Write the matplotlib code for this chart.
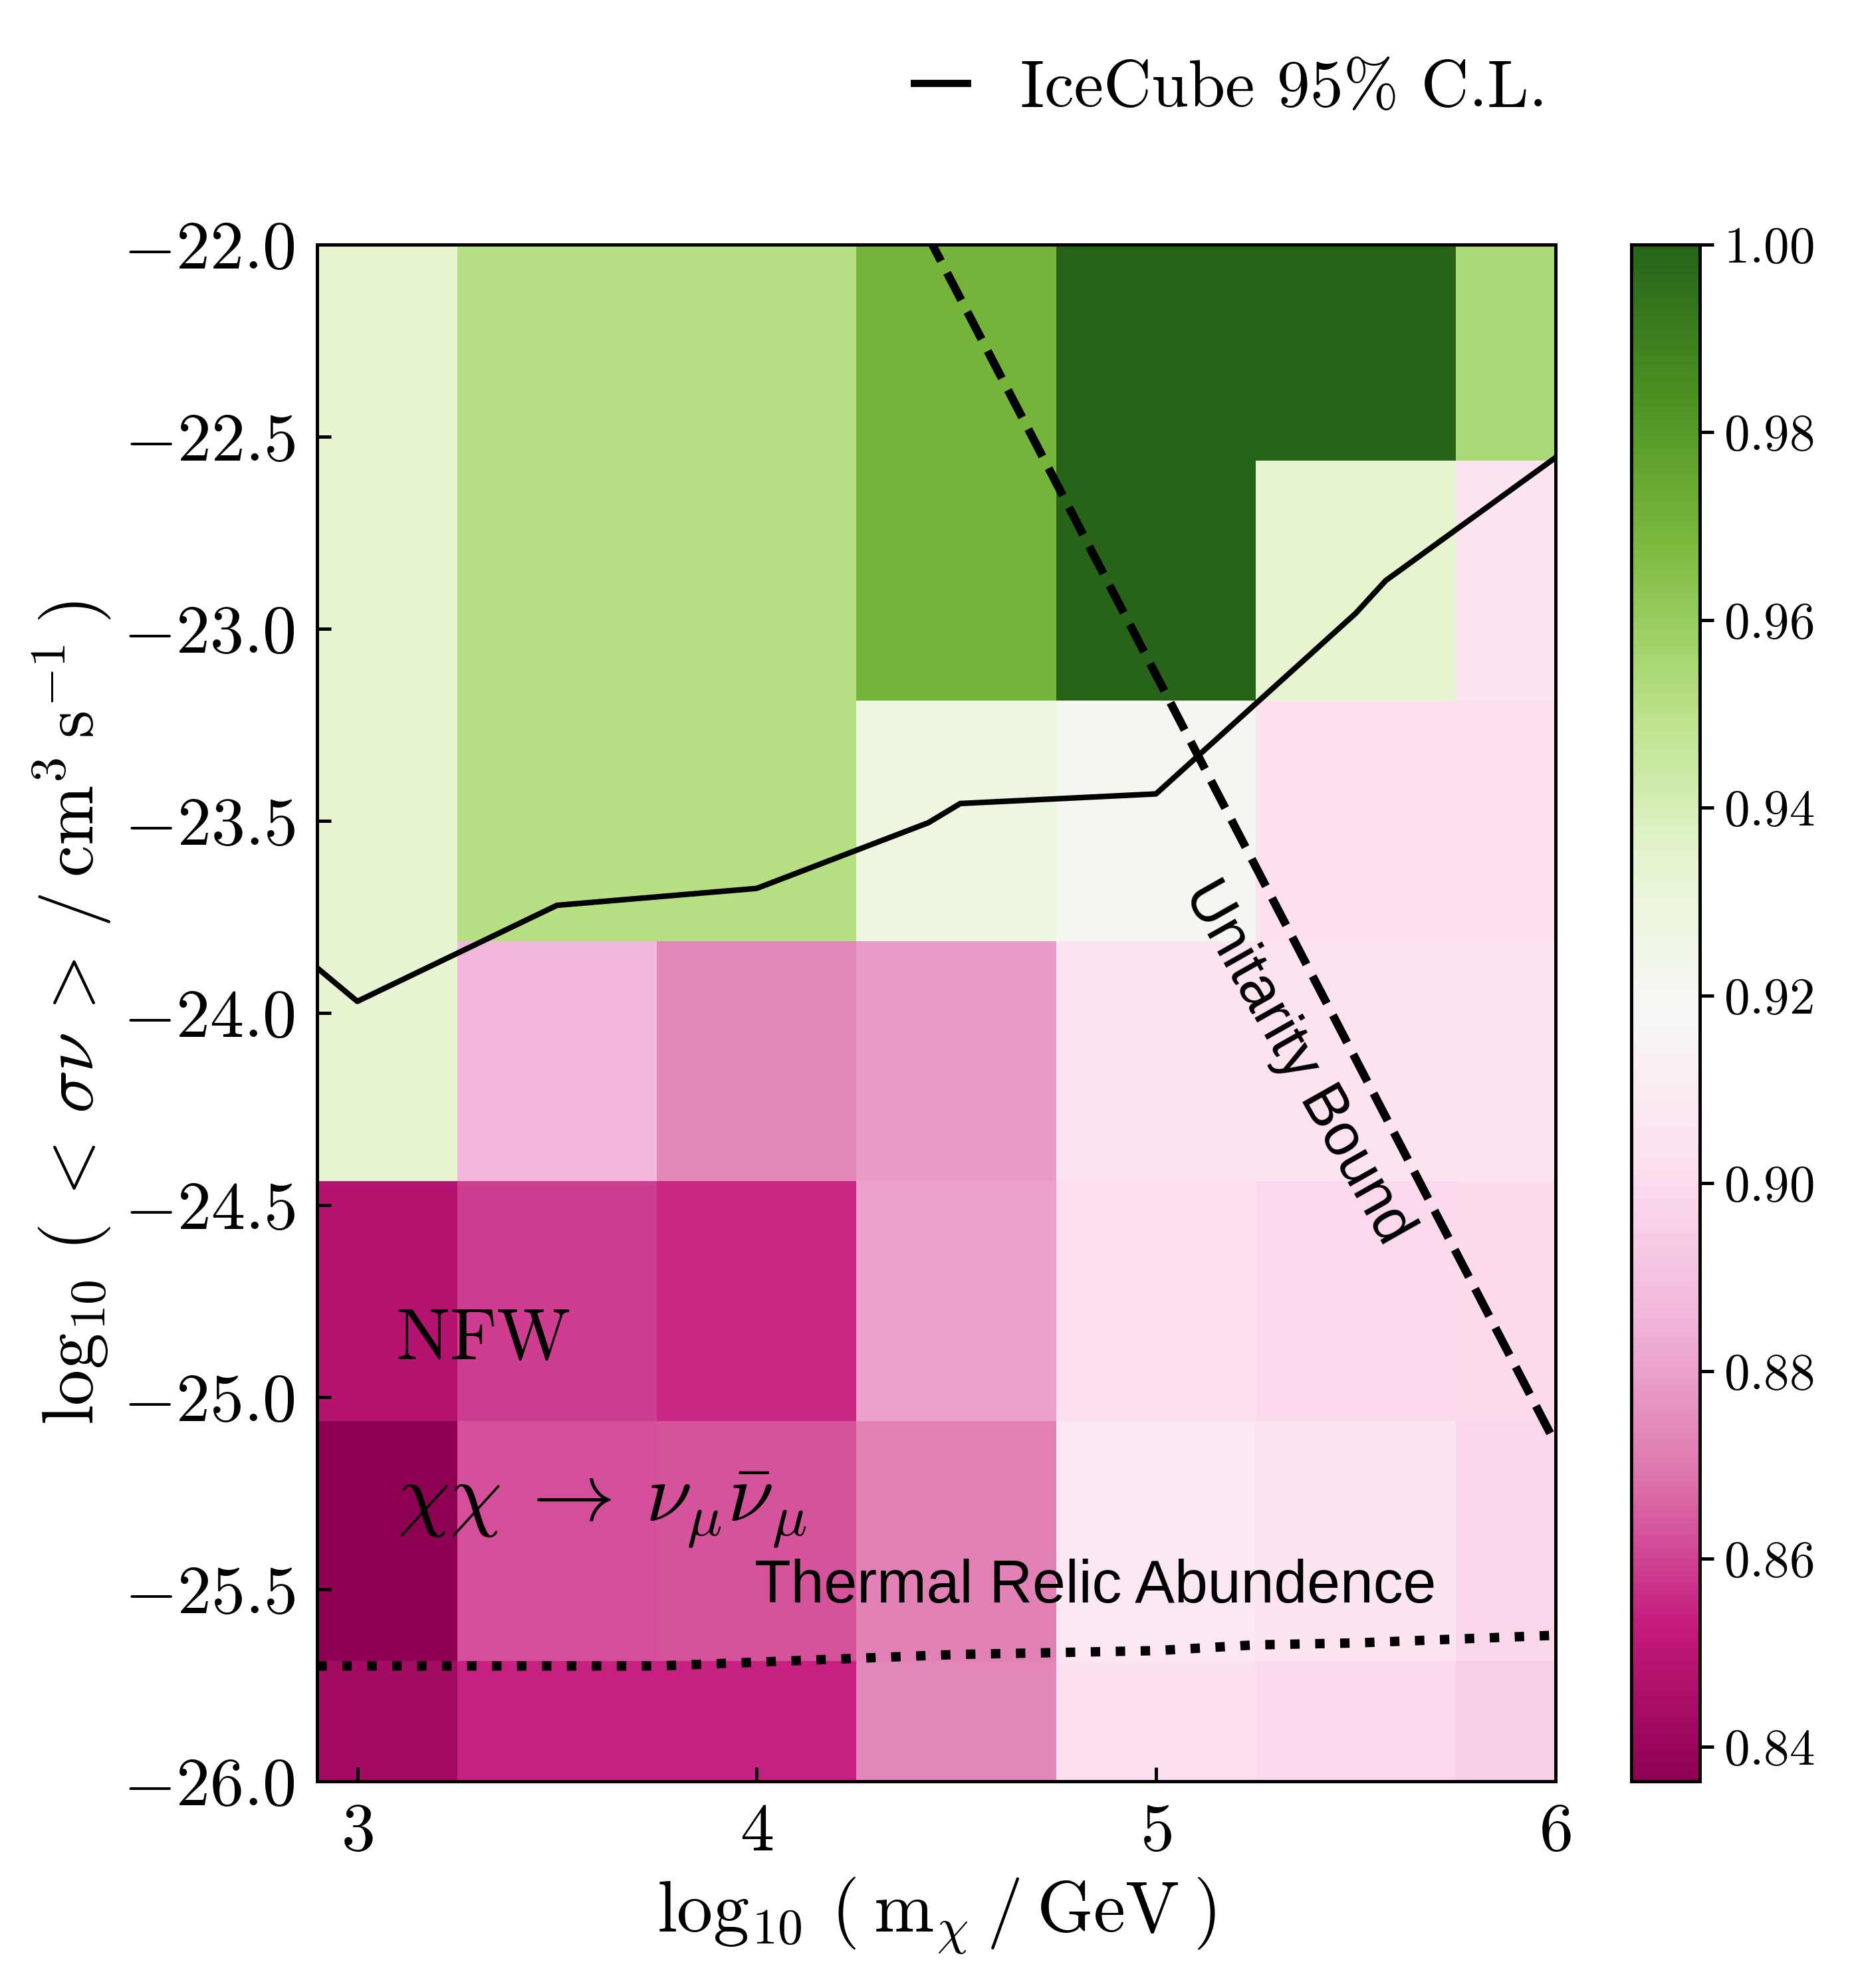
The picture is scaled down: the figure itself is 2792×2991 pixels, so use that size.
import numpy as np
import matplotlib
matplotlib.use("Agg")
import matplotlib.pyplot as plt
from matplotlib.ticker import FuncFormatter

# === dados ===
log_m = [3.0, 3.5, 4.0, 4.5, 5.0, 5.5, 6.0]
log_sv = [-26.0, -25.375, -24.75, -24.125, -23.5, -22.875, -22.25]

# linhas = log_sv (de baixo para cima), colunas = log_m
ratio = [
    [0.843, 0.854, 0.854, 0.874, 0.902, 0.899, 0.895],
    [0.8365, 0.862, 0.863, 0.872, 0.907, 0.906, 0.898],
    [0.848, 0.859, 0.855, 0.880, 0.902, 0.899, 0.900],
    [0.934, 0.886, 0.874, 0.879, 0.905, 0.903, 0.903],
    [0.9346, 0.951, 0.951, 0.928, 0.921, 0.902, 0.902],
    [0.9346, 0.951, 0.951, 0.970, 1.000, 0.9346, 0.905],
    [0.9346, 0.951, 0.951, 0.970, 1.000, 1.000, 0.954],
]

icecube_m = [2.85, 3.0, 3.5, 4.0, 4.43, 4.51, 5.0, 5.5, 5.575, 6.0]
icecube_sv = [-23.84, -23.97, -23.72, -23.676, -23.505, -23.455, -23.43, -22.96, -22.875, -22.555]

unitarity_m = [4.0, 4.5, 5.0, 5.5, 6.0]
unitarity_sv = [-21.12, -22.12, -23.12, -24.12, -25.12]

relic_m = [2.9, 3.0, 3.5, 3.75, 4.0, 4.25, 4.5, 5.0, 5.25, 5.5, 6.0]
relic_sv = [-25.70, -25.70, -25.70, -25.70, -25.69, -25.68, -25.67, -25.66, -25.645, -25.64, -25.62]

# === estilo ===
plt.rcParams['mathtext.fontset'] = 'cm'
plt.rcParams['font.family'] = 'serif'
plt.rcParams['font.serif'] = ['cmr10', 'DejaVu Serif']
plt.rcParams['axes.formatter.use_mathtext'] = True

fig = plt.figure(figsize=(2792 / 300, 2991 / 300), dpi=300)
ax = fig.add_axes([0.171, 0.104, 0.667, 0.773])
cax = fig.add_axes([0.879, 0.104, 0.037, 0.773])

mesh = ax.pcolormesh(log_m, log_sv, np.array(ratio), cmap='PiYG',
                     vmin=0.8363, vmax=1.0, shading='nearest')

ax.plot(icecube_m, icecube_sv, color='black', lw=2.0, label='IceCube 95% C.L.')
ax.plot(unitarity_m, unitarity_sv, color='black', lw=3.0, ls='--')
ax.plot(relic_m, relic_sv, color='black', lw=3.4, ls=':')

ax.set_xlim(2.9, 6.0)
ax.set_ylim(-26.0, -22.0)
ax.set_xticks([3, 4, 5, 6])
ax.set_yticks(np.arange(-26.0, -21.9, 0.5))
ax.xaxis.set_major_formatter(FuncFormatter(lambda v, p: r'$%d$' % v))
ax.yaxis.set_major_formatter(FuncFormatter(lambda v, p: r'$%.1f$' % v))
ax.tick_params(direction='in', length=5, width=1.2, labelsize=24.5, pad=8)
for s in ax.spines.values():
    s.set_linewidth(1.2)

ax.set_xlabel(r'$\log_{10}\:(\:\mathrm{m}_{\chi}\:/\:\mathrm{GeV}\:)$', fontsize=26)
ax.set_ylabel(r'$\log_{10}\:(\:<\:\sigma\nu\:>\:/\:\mathrm{cm}^{3}\:\mathrm{s}^{-1}\:)$',
              fontsize=26)

# textos
ax.text(3.095, -24.9, r'$\mathrm{NFW}$', fontsize=26)
ax.text(3.1, -25.325, r'$\chi\chi\:\rightarrow\:\nu_{\mu}\bar{\nu}_{\mu}$', fontsize=30)
ax.text(3.995, -25.535, 'Thermal Relic Abundence', fontsize=21.5,
        family=['Liberation Sans', 'DejaVu Sans'])
ax.text(5.355, -24.13, 'Unitarity Bound', fontsize=21.5, rotation=-60.5,
        ha='center', va='center', rotation_mode='anchor',
        family=['Liberation Sans', 'DejaVu Sans'])

# barra de cores
cb = fig.colorbar(mesh, cax=cax)
cb.set_ticks([0.84, 0.86, 0.88, 0.90, 0.92, 0.94, 0.96, 0.98, 1.00])
cb.ax.yaxis.set_major_formatter(FuncFormatter(lambda v, p: r'$%.2f$' % v))
cb.ax.tick_params(direction='out', length=5, width=1.2, labelsize=18.5)
cb.outline.set_linewidth(1.2)

leg = fig.legend(loc='center', bbox_to_anchor=(0.663, 0.955), frameon=False,
                 fontsize=24, handlelength=0.8)
leg.get_lines()[0].set_linewidth(2.6)

fig.savefig('out.png', dpi=300)
